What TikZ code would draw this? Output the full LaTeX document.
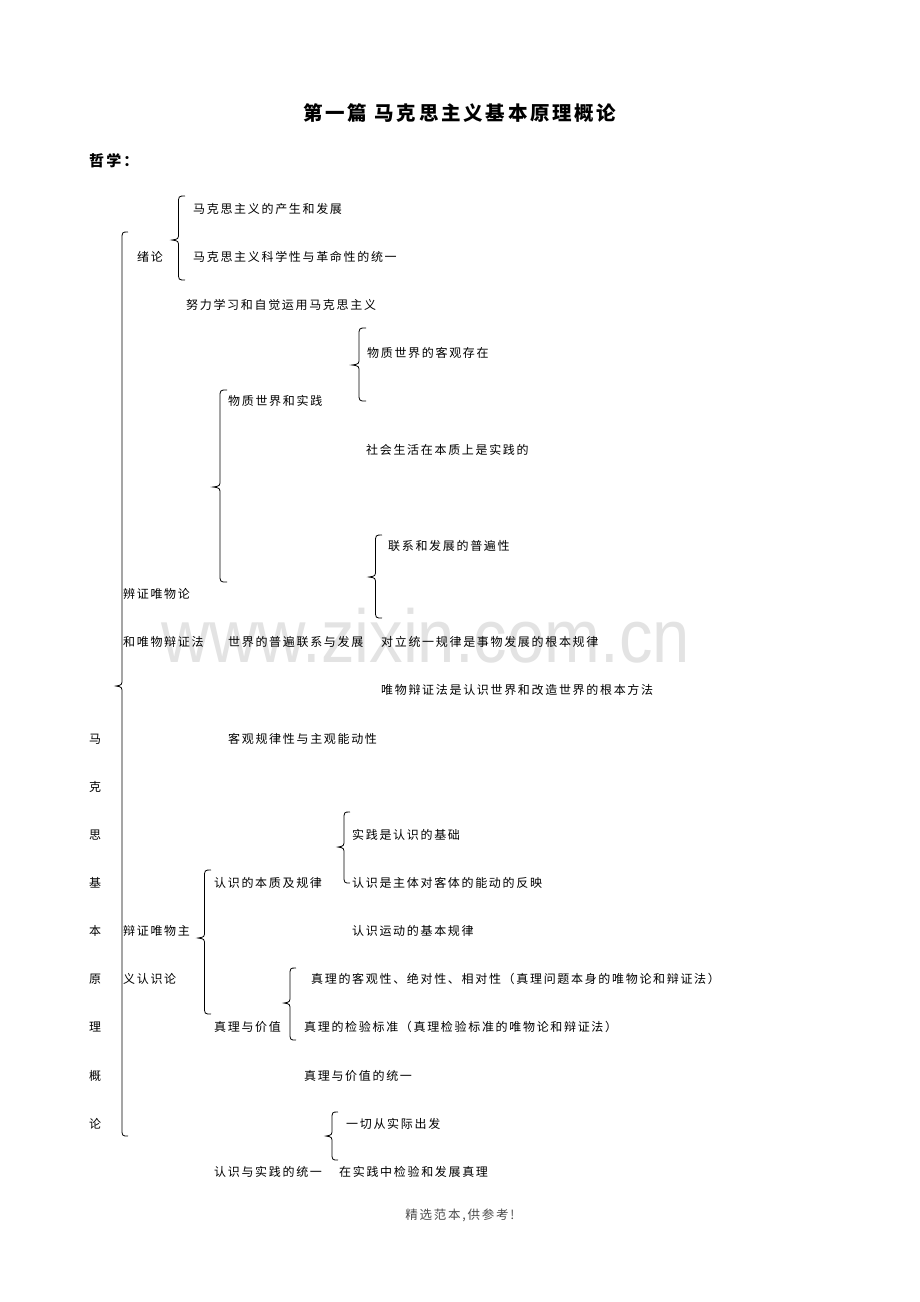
\documentclass[tikz,border=0pt]{standalone}
\usepackage{fontspec}
\newfontfamily\cjk[LetterSpace=14]{Noto Sans CJK SC}
\newfontfamily\wmfont{Liberation Sans}
\newcommand{\cbrace}[5]{%
  \pgfmathsetmacro\bs{(#1+#2)/2}%
  \draw[bracestroke] (#2,#3) .. controls (\bs,#3) .. (\bs,#3+8) -- (\bs,#4-7)
    .. controls (\bs,#4-1) .. (#1,#4) .. controls (\bs,#4+1) .. (\bs,#4+7)
    -- (\bs,#5-8) .. controls (\bs,#5) .. (#2,#5);%
}
\tikzset{
  bracestroke/.style={line width=0.8pt, black},
  txt/.style={anchor=west, inner sep=0pt, font=\cjk\fontsize{12}{14}\selectfont, text=black},
  ttl/.style={anchor=center, inner sep=0pt, font=\cjk\bfseries\fontsize{19.5}{22}\selectfont},
  sub/.style={anchor=west, inner sep=0pt, font=\cjk\bfseries\fontsize{15}{18}\selectfont},
  foot/.style={anchor=center, inner sep=0pt, font=\cjk\fontsize{12.5}{15}\selectfont, text=black!70},
  wm/.style={anchor=east, inner sep=0pt, font=\wmfont\fontsize{67}{72}\selectfont, text=black!11, yscale=1.12},
}
\begin{document}
\begin{tikzpicture}[x=1pt,y=-1pt]
\useasboundingbox[fill=white] (0,0) rectangle (920,1302);
% watermark
\node[wm] (wmark) at (690,636) {www.zixin.com.cn};
% title
\node[ttl] (title) at (460,113) {第一篇 马克思主义基本原理概论};
\node[sub] (zhexue) at (89,161) {哲学\kern2pt：};
% left vertical column
\node[txt] (v1) at (89,739) {马};
\node[txt] (v2) at (89,787) {克};
\node[txt] (v3) at (89,835) {思};
\node[txt] (v4) at (89,883) {基};
\node[txt] (v5) at (89,931) {本};
\node[txt] (v6) at (89,979) {原};
\node[txt] (v7) at (89,1027) {理};
\node[txt] (v8) at (89,1076) {概};
\node[txt] (v9) at (89,1124) {论};
% texts
\node[txt] (a1) at (193,209) {马克思主义的产生和发展};
\node[txt] (xulun) at (137,257) {绪论};
\node[txt] (a2) at (193,257) {马克思主义科学性与革命性的统一};
\node[txt] (a3) at (186,305) {努力学习和自觉运用马克思主义};
\node[txt] (b1) at (367,353) {物质世界的客观存在};
\node[txt] (b0) at (228,401) {物质世界和实践};
\node[txt] (b2) at (366,450) {社会生活在本质上是实践的};
\node[txt] (c1) at (388,546) {联系和发展的普遍性};
\node[txt] (d1) at (123,594) {辨证唯物论};
\node[txt] (d2) at (123,642) {和唯物辩证法};
\node[txt] (c0) at (228,642) {世界的普遍联系与发展};
\node[txt] (c2) at (381,642) {对立统一规律是事物发展的根本规律};
\node[txt] (c3) at (381,690) {唯物辩证法是认识世界和改造世界的根本方法};
\node[txt] (e1) at (228,739) {客观规律性与主观能动性};
\node[txt] (f1) at (352,835) {实践是认识的基础};
\node[txt] (f0) at (214,883) {认识的本质及规律};
\node[txt] (f2) at (352,883) {认识是主体对客体的能动的反映};
\node[txt] (g1) at (123,931) {辩证唯物主};
\node[txt] (f3) at (352,931) {认识运动的基本规律};
\node[txt] (g2) at (123,979) {义认识论};
\node[txt] (h1) at (311,979) {真理的客观性、绝对性、相对性（真理问题本身的唯物论和辩证法）};
\node[txt] (h0) at (214,1027) {真理与价值};
\node[txt] (h2) at (304,1027) {真理的检验标准（真理检验标准的唯物论和辩证法）};
\node[txt] (h3) at (304,1076) {真理与价值的统一};
\node[txt] (k1) at (346,1124) {一切从实际出发};
\node[txt] (k0) at (214,1172) {认识与实践的统一};
\node[txt] (k2) at (339,1172) {在实践中检验和发展真理};
% footer
\node[foot] (footer) at (460,1215) {精选范本,供参考!};
% braces
\cbrace{172}{185}{196}{240}{280}
\cbrace{116}{128}{232}{686}{1136}
\cbrace{213}{227}{390}{487}{582}
\cbrace{352}{366}{328}{365}{401}
\cbrace{369}{382}{535}{577}{618}
\cbrace{338}{350}{812}{847}{883}
\cbrace{198}{211}{870}{938}{1014}
\cbrace{284}{296}{968}{1003}{1040}
\cbrace{326}{338}{1112}{1136}{1160}
\end{tikzpicture}
\end{document}
